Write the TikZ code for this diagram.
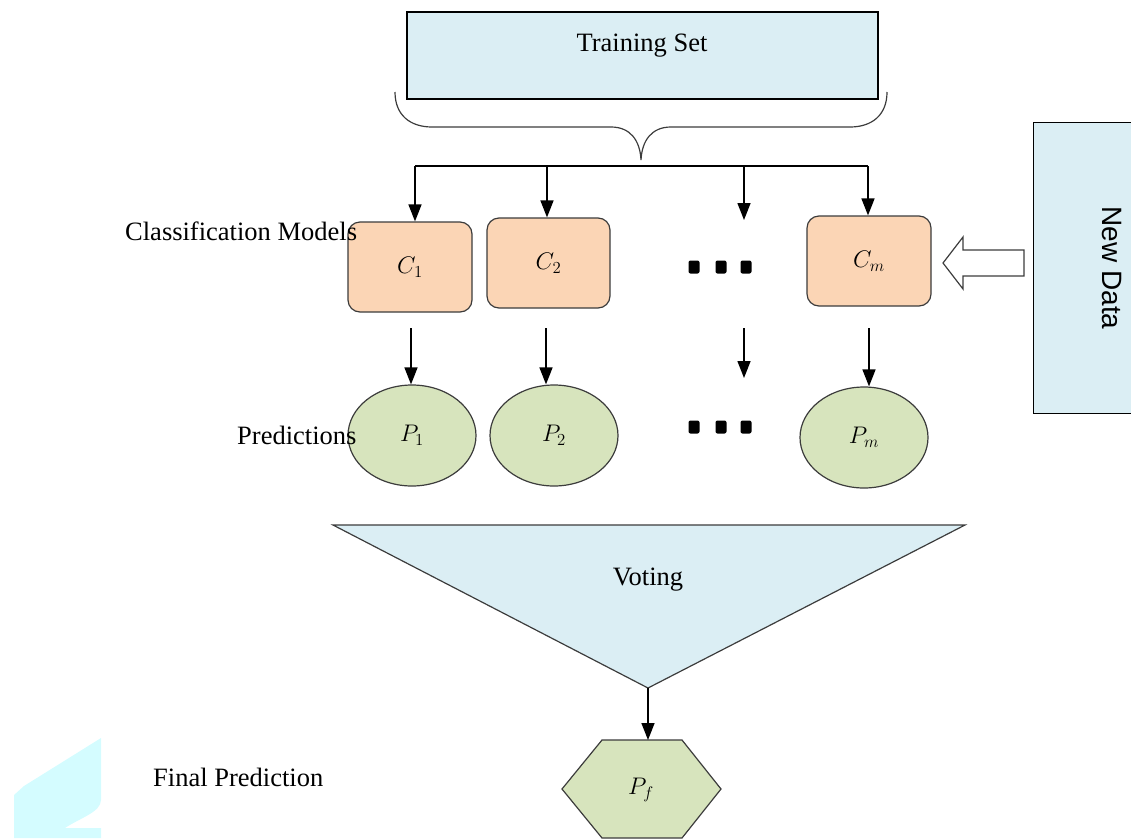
\RequirePackage{fix-cm}
\documentclass[tikz,border=0pt]{standalone}
\usepackage{fontspec}
\setmainfont{Liberation Serif}
\newfontfamily\ndfont{Liberation Sans}
\usetikzlibrary{arrows.meta,shapes.geometric,calc}
\definecolor{lblue}{RGB}{219,238,244}
\definecolor{peach}{RGB}{251,213,181}
\definecolor{lgreen}{RGB}{215,228,189}
\definecolor{edgegray}{RGB}{60,60,60}
\definecolor{wcyan}{RGB}{212,252,255}
\tikzset{
  txt/.style={font=\fontsize{26.5}{30}\selectfont, inner sep=0pt},
  mlabel/.style={font=\fontsize{24}{28}\selectfont, inner sep=0pt},
  cbox/.style={draw=edgegray, line width=1.2pt, fill=peach, rounded corners=12pt, minimum width=124pt, minimum height=90pt, font=\fontsize{24}{28}\selectfont},
  pell/.style={draw=edgegray, line width=1.2pt, fill=lgreen, ellipse, minimum width=128pt, minimum height=101pt, inner sep=0pt, font=\fontsize{24}{28}\selectfont},
  arr/.style={line width=1.5pt, -{Triangle[length=17pt,width=13pt]}},
  dotsq/.style={fill=black, rounded corners=2pt, minimum width=11pt, minimum height=13pt, inner sep=0pt},
}
\begin{document}
\begin{tikzpicture}[x=1pt,y=-1pt]
\useasboundingbox (0,0) rectangle (1131,838);
% watermark fragment
\fill[wcyan] (14,838) -- (14,795) -- (24,786) -- (101,738) -- (101,800) .. controls (101,812) and (80,818) .. (65,828) -- (101,828) -- (101,838) -- cycle;
% training set
\node[draw=black, line width=1.2pt, fill=lblue, minimum width=471pt, minimum height=87pt, inner sep=0pt] (train) at (642.5,55.5) {};
\node[txt] (traintxt) at (642,46) {Training Set};
% brace
\draw[line width=1.2pt, draw=edgegray] (395,92) .. controls (395,115) and (410,127) .. (432,127) -- (611,127) .. controls (630,127) and (640,140) .. (641,160)
  .. controls (642,140) and (652,127) .. (671,127) -- (850,127) .. controls (872,127) and (887,115) .. (887,92);
% distribution line
\coordinate (d1) at (415,166);
\coordinate (d2) at (547,166);
\coordinate (d3) at (744,166);
\coordinate (d4) at (868,166);
\draw[line width=1.5pt] (d1) -- (d4);
% classifiers
\node[cbox] (c1) at (410,267) {$C_1$};
\node[cbox, minimum width=123pt] (c2) at (548.5,263) {$C_2$};
\node[cbox] (cm) at (869,261) {$C_m$};
\coordinate (cdots) at (744,220);
\draw[arr] (d1) -- (d1 |- c1.north);
\draw[arr] (d2) -- (d2 |- c2.north);
\draw[arr] (d3) -- (cdots);
\draw[arr] (d4) -- (d4 |- cm.north);
\node[dotsq] (k1) at (694,267) {};
\node[dotsq] (k2) at (721,267) {};
\node[dotsq] (k3) at (746,267) {};
% predictions
\node[pell] (p1) at (412,435.5) {$P_1$};
\node[pell] (p2) at (554,435.5) {$P_2$};
\node[pell] (pm) at (864,437.5) {$P_m$};
\node[dotsq] (q1) at (694,427) {};
\node[dotsq] (q2) at (721,427) {};
\node[dotsq] (q3) at (746,427) {};
\coordinate (a1s) at (411,328);
\coordinate (a2s) at (546,328);
\coordinate (a3s) at (744,328);
\coordinate (a3e) at (744,378);
\coordinate (a4s) at (869,328);
\draw[arr] (a1s) -- (a1s |- p1.north);
\draw[arr] (a2s) -- (a2s |- p2.north);
\draw[arr] (a3s) -- (a3e);
\draw[arr] (a4s) -- (a4s |- pm.north);
% new data
\node[draw=black, line width=1.2pt, fill=lblue, minimum width=110pt, minimum height=291pt, inner sep=0pt, anchor=north west] (nd) at (1033,122) {};
\node[font=\ndfont\fontsize{28}{32}\selectfont, rotate=-90, inner sep=0pt] (ndtxt) at (1112,268) {New Data};
\draw[line width=1.2pt, fill=white, draw=edgegray] (1024,250) -- (963,250) -- (963,237) -- (943,263) -- (963,289) -- (963,276) -- (1024,276) -- cycle;
% voting
\coordinate (vtl) at (333,525);
\coordinate (vtr) at (965,525);
\coordinate (vapex) at (648,688);
\draw[line width=1.2pt, draw=edgegray, fill=lblue] (vtl) -- (vtr) -- (vapex) -- cycle;
\node[txt] (vote) at (648,580) {Voting};
% final
\coordinate (hextop) at (648,740);
\draw[line width=1.2pt, draw=edgegray, fill=lgreen] (602,740) -- (682,740) -- (721,789) -- (682,838) -- (602,838) -- (562,789) -- cycle;
\node[mlabel] (pf) at (641,790) {$P_f$};
\draw[arr] (vapex) -- (hextop);
% side labels
\node[txt, anchor=west] (lcm) at (125,231) {Classification Models};
\node[txt, anchor=west] (lpr) at (237,435) {Predictions};
\node[txt, anchor=west] (lfp) at (153,777) {Final Prediction};
\end{tikzpicture}
\end{document}
